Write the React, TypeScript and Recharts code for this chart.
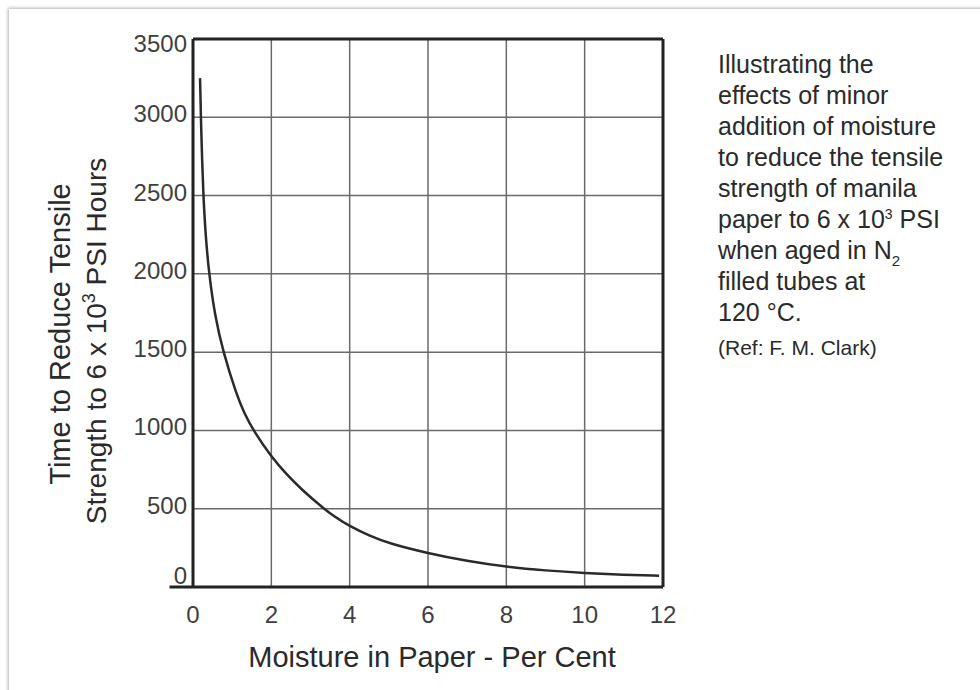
import { LineChart, Line, XAxis, YAxis, CartesianGrid, ReferenceLine } from 'recharts';

// curve
const moisture = [0.18, 0.2, 0.26, 0.33, 0.41, 0.56, 0.77, 1.11, 1.3, 1.54, 2, 2.4, 2.75, 3.3, 3.6, 4, 4.5, 5, 6, 7, 8, 9, 10, 11, 11.9];
const hours = [3250, 3000, 2500, 2220, 2000, 1730, 1500, 1230, 1115, 1000, 830, 716, 628, 508, 451, 388, 328, 278, 215, 165, 128, 105, 89, 78, 72];

const xTicks = [0, 2, 4, 6, 8, 10, 12];
const yTicks = [0, 500, 1000, 1500, 2000, 2500, 3000, 3500];

const data = moisture.map((m, i) => ({ m, h: hours[i] }));

const font = '"Liberation Sans", Arial, sans-serif';
const ink = '#2a2a2a';

function YTick(props: any) {
  const { x, y, payload } = props;
  let dy = 5;
  if (payload.value === 3500) dy = 13;
  if (payload.value === 0) dy = -3;
  return (
    <text x={x} y={y + dy} textAnchor="end" fontSize={24} fontFamily={font} fill="#3f3f3f">
      {payload.value}
    </text>
  );
}

function XTick(props: any) {
  const { x, y, payload } = props;
  return (
    <text x={x} y={y + 36} textAnchor="middle" fontSize={24} fontFamily={font} fill="#3f3f3f">
      {payload.value}
    </text>
  );
}

export default function App() {
  return (
    <div style={{ position: 'absolute', left: 0, top: 0, width: 980, height: 690, background: '#fff' }}>
      <div
        style={{
          position: 'absolute', left: 9, top: 9, width: 975, height: 685,
          background: '#fff', boxShadow: '-1px -1px 3px rgba(0,0,0,0.3)',
        }}
      />
      <div style={{ position: 'absolute', left: 0, top: 0 }}>
        <LineChart width={980} height={690} data={data} margin={{ top: 39, right: 317, bottom: 0, left: 0 }}>
          <CartesianGrid stroke="#6a6a6a" strokeWidth={1.5} horizontalValues={yTicks} verticalValues={xTicks} />
          <XAxis
            dataKey="m" type="number" domain={[0, 12]} ticks={xTicks} height={103}
            tickSize={0} tickMargin={0} tick={<XTick />} axisLine={false} allowDataOverflow
          />
          <YAxis
            type="number" domain={[0, 3500]} ticks={yTicks} width={193}
            tickSize={0} tickMargin={6} tick={<YTick />}
            axisLine={{ stroke: '#222', strokeWidth: 3 }} allowDataOverflow
          />
          <ReferenceLine y={3500} stroke="#222" strokeWidth={3} />
          <ReferenceLine x={12} stroke="#222" strokeWidth={3} />
          <ReferenceLine
            segment={[{ x: -0.6, y: 0 }, { x: 12, y: 0 }]}
            stroke="#222" strokeWidth={3} ifOverflow="visible"
          />
          <Line
            type="basis" dataKey="h" stroke="#2a2a2a" strokeWidth={2.5}
            dot={false} isAnimationActive={false}
          />
        </LineChart>
      </div>
      <svg width={980} height={690} style={{ position: 'absolute', left: 0, top: 0, pointerEvents: 'none' }}>
        <g fontFamily={font} fill={ink}>
          <text x={432} y={667} textAnchor="middle" fontSize={29}>
            Moisture in Paper - Per Cent
          </text>
          <text transform="translate(70,334) rotate(-90)" textAnchor="middle" fontSize={29}>
            Time to Reduce Tensile
          </text>
          <text transform="translate(106,341) rotate(-90)" textAnchor="middle" fontSize={28}>
            Strength to 6 x 10<tspan dy={-11} fontSize={18}>3</tspan>
            <tspan dy={11}> PSI Hours</tspan>
          </text>
        </g>
        <g fontFamily={font} fill={ink} fontSize={25}>
          <text x={718} y={73}>Illustrating the</text>
          <text x={718} y={104}>effects of minor</text>
          <text x={718} y={135}>addition of moisture</text>
          <text x={718} y={166}>to reduce the tensile</text>
          <text x={718} y={197}>strength of manila</text>
          <text x={718} y={228}>
            paper to 6 x 10<tspan dy={-9} fontSize={14}>3</tspan>
            <tspan dy={9}> PSI</tspan>
          </text>
          <text x={718} y={259}>
            when aged in N<tspan dy={7} fontSize={15}>2</tspan>
          </text>
          <text x={718} y={290}>filled tubes at</text>
          <text x={718} y={321}>120 °C.</text>
          <text x={718} y={355} fontSize={21}>(Ref: F. M. Clark)</text>
        </g>
      </svg>
    </div>
  );
}
